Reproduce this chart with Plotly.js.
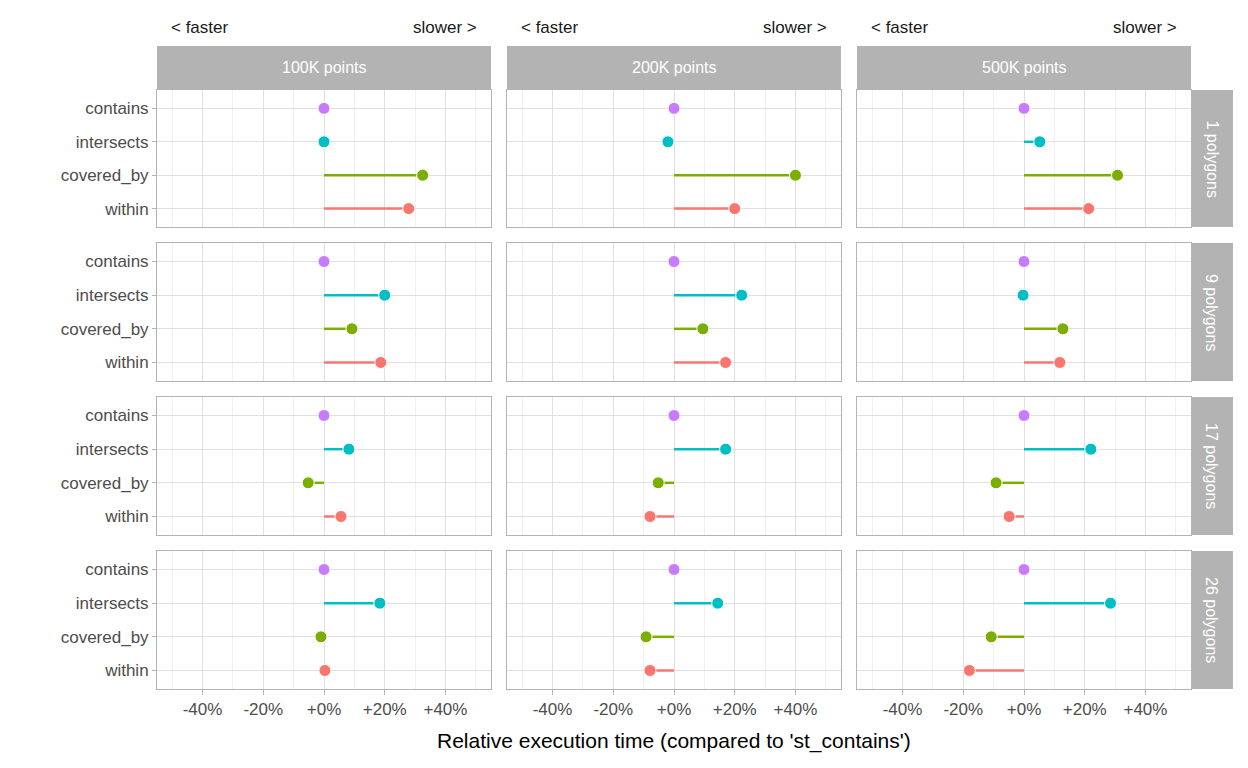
<!DOCTYPE html>
<html><head><meta charset="utf-8">
<script src="https://cdn.plot.ly/plotly-3.0.1.min.js"></script>
<style>body{margin:0}</style></head>
<body><div id="plot" style="width:1248px;height:768px"></div>
<script>
// facets
var cols = ["100K points", "200K points", "500K points"];
var rows = ["1 polygons", "9 polygons", "17 polygons", "26 polygons"];
var ops = ["within", "covered_by", "intersects", "contains"];
var opColors = ["#F8766D", "#7CAE00", "#00BFC4", "#C77CFF"];

// values[row][col] = [within, covered_by, intersects, contains] in %
var values = [
  [[27.9, 32.5, 0, 0], [20, 40, -2, 0], [21.3, 30.8, 5.2, 0]],
  [[18.7, 9.2, 20, 0], [17, 9.5, 22.3, 0], [11.8, 12.8, -0.3, 0]],
  [[5.6, -5.2, 8.2, 0], [-7.9, -5.2, 17, 0], [-4.9, -9.2, 22, 0]],
  [[0.3, -1, 18.4, 0], [-7.9, -9.2, 14.4, 0], [-18, -10.8, 28.5, 0]]
];
var tickVals = [-40, -20, 0, 20, 40];
var tickText = ["-40%", "-20%", "+0%", "+20%", "+40%"];

var W = 1248, H = 768;
var colX = [[157, 491], [507, 841], [857, 1191]];
var rowY = [[90, 227], [243, 381], [397, 535], [551, 689]];
var font = "Liberation Sans, Arial, sans-serif";

var data = [];
var layout = {
  width: W, height: H, margin: {l: 0, r: 0, t: 0, b: 0},
  paper_bgcolor: "white", plot_bgcolor: "white", showlegend: false,
  font: {family: font, size: 17, color: "#4d4d4d"},
  shapes: [], annotations: []
};

var n = 0;
for (var r = 0; r < rows.length; r++) {
  for (var c = 0; c < cols.length; c++) {
    n++;
    var xa = n === 1 ? "x" : "x" + n, ya = n === 1 ? "y" : "y" + n;
    for (var k = 0; k < ops.length; k++) {
      var v = values[r][c][k];
      data.push({
        x: [0, v], y: [ops[k], ops[k]], xaxis: xa, yaxis: ya,
        mode: "lines+markers", hoverinfo: "x+y",
        line: {color: opColors[k], width: 2.5},
        marker: {color: opColors[k], size: [0, 12], opacity: 1}
      });
    }
    layout["xaxis" + (n === 1 ? "" : n)] = {
      domain: [colX[c][0] / W, colX[c][1] / W], anchor: ya,
      range: [-55, 55], tickmode: "array", tickvals: tickVals, ticktext: tickText,
      showticklabels: r === rows.length - 1, ticks: r === rows.length - 1 ? "outside" : "",
      ticklen: 5, tickcolor: "#b3b3b3",
      gridcolor: "#e0e0e0", gridwidth: 1, zeroline: false,
      minor: {tickmode: "array", tickvals: [-50, -30, -10, 10, 30, 50], showgrid: true, gridcolor: "#f0f0f0", ticks: ""},
      showline: true, mirror: true, linecolor: "#b3b3b3", linewidth: 1,
      tickfont: {size: 17, color: "#4d4d4d"}
    };
    layout["yaxis" + (n === 1 ? "" : n)] = {
      domain: [1 - rowY[r][1] / H, 1 - rowY[r][0] / H], anchor: xa,
      type: "category", categoryorder: "array", categoryarray: ops,
      range: [-0.55, 3.55], showticklabels: c === 0,
      ticks: c === 0 ? "outside" : "", ticklen: 4, tickcolor: "#b3b3b3",
      gridcolor: "#e0e0e0", zeroline: false,
      showline: true, mirror: true, linecolor: "#b3b3b3", linewidth: 1,
      tickfont: {size: 17, color: "#4d4d4d"}
    };
  }
}

// column strips
for (var c = 0; c < cols.length; c++) {
  layout.shapes.push({type: "rect", xref: "paper", yref: "paper",
    x0: colX[c][0] / W, x1: colX[c][1] / W, y0: 1 - 89 / H, y1: 1 - 46 / H,
    fillcolor: "#b3b3b3", line: {width: 0}});
  layout.annotations.push({xref: "paper", yref: "paper", showarrow: false,
    x: (colX[c][0] + colX[c][1]) / 2 / W, y: 1 - 68 / H, xanchor: "center", yanchor: "middle",
    text: cols[c], font: {size: 16, color: "white"}});
  layout.annotations.push({xref: "paper", yref: "paper", showarrow: false,
    x: (colX[c][0] + 12) / W, y: 1 - 27 / H, xanchor: "left", yanchor: "middle", text: "< faster",
    font: {size: 17, color: "#1a1a1a"}});
  layout.annotations.push({xref: "paper", yref: "paper", showarrow: false,
    x: (colX[c][1] - 12) / W, y: 1 - 27 / H, xanchor: "right", yanchor: "middle", text: "slower >",
    font: {size: 17, color: "#1a1a1a"}});
}
// row strips
for (var r = 0; r < rows.length; r++) {
  layout.shapes.push({type: "rect", xref: "paper", yref: "paper",
    x0: 1191 / W, x1: 1233 / W, y0: 1 - rowY[r][1] / H, y1: 1 - rowY[r][0] / H,
    fillcolor: "#b3b3b3", line: {width: 0}});
  layout.annotations.push({xref: "paper", yref: "paper", showarrow: false,
    x: 1212 / W, y: 1 - (rowY[r][0] + rowY[r][1]) / 2 / H, xanchor: "center", yanchor: "middle",
    text: rows[r], textangle: 90, font: {size: 16, color: "white"}});
}
layout.annotations.push({xref: "paper", yref: "paper", showarrow: false,
  x: 674 / W, y: 1 - 741 / H, xanchor: "center", yanchor: "middle",
  text: "Relative execution time (compared to 'st_contains')",
  font: {size: 21, color: "black"}});

Plotly.newPlot("plot", data, layout, {displayModeBar: false});
</script></body></html>
